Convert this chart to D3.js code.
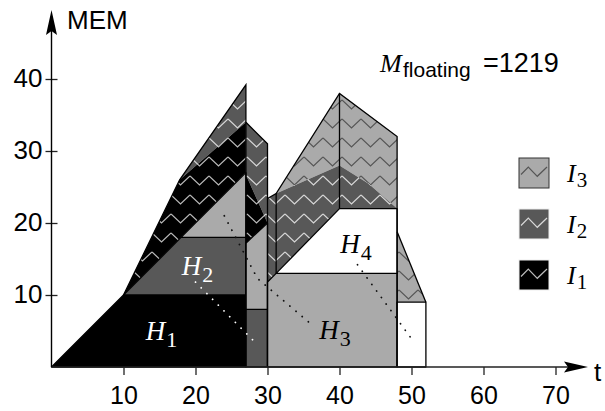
<!DOCTYPE html>
<meta charset="utf-8" />
<script src="https://d3js.org/d3.v7.min.js"></script>
<style>
  body { margin: 0; background: #fff; }
  svg { display: block; }
</style>
<div id="chart"></div>
<script>
  // memory profile, points are [t, MEM]
  const h1 = [[0, 0], [10, 10], [27, 10], [27, 0]];
  const h2 = [[10, 10], [18, 18], [27, 18], [27, 10]];
  const h2Top = [[18, 18], [27, 27], [27, 18]];
  const i1Left = [[10, 10], [17.8, 26], [27, 34], [27, 27]];
  const i2Left = [[17.8, 26], [27, 39.2], [27, 34]];
  const colBottom = [[27, 0], [30, 0], [30, 8], [27, 8]];
  const colMid = [[27, 8], [30, 8], [30, 20], [27, 17.2]];
  const colI1 = [[27, 26.7], [30, 20], [27, 17.2]];
  const colI2 = [[27, 34], [30, 31], [30, 20], [27, 26.7]];
  const h3 = [[30, 0], [48, 0], [48, 13], [31.2, 13], [30, 11.8]];
  const h4 = [[31.2, 13], [40, 22], [48, 22], [48, 13]];
  const i2Right = [[30, 11.8], [40, 22], [48, 22], [44, 25.5], [40, 28], [31.2, 24.1], [30, 23.4]];
  const i3Right = [[30, 23.4], [31.2, 24.1], [40, 38], [48, 32], [48, 22], [44, 25.5], [40, 28], [31.2, 24.1]];
  const i3End = [[48, 18.8], [52, 9], [48, 9]];
  const endBox = [[48, 0], [52, 0], [52, 9], [48, 9]];

  const outlines = [
    [[10, 10], [17.8, 26], [27, 39.2], [27, 0]],
    [[27, 34], [30, 31], [30, 0]],
    [[30, 23.4], [31.2, 24.1], [40, 38], [48, 32], [48, 0]],
    [[31.2, 13], [31.2, 24.1]],
    [[40, 22], [40, 38]],
    [[48, 18.8], [52, 9]]
  ];

  const dotsDark = [
    [[24, 21], [28.6, 12.3], [36, 6]],
    [[42.5, 14.2], [49.8, 4.2]]
  ];
  const dotsLight = [[[20, 11.8], [28.7, 3]]];

  const hLabels = [
    { name: "H", sub: "1", t: 13.1, m: 3.75, color: "#fff" },
    { name: "H", sub: "2", t: 18.1, m: 12.8, color: "#fff" },
    { name: "H", sub: "3", t: 37.2, m: 3.9, color: "#000" },
    { name: "H", sub: "4", t: 40.1, m: 15.8, color: "#000" }
  ];

  const legendItems = [
    { name: "I", sub: "3", fill: "#aaaaaa", zz: "#555", border: "#333" },
    { name: "I", sub: "2", fill: "#585858", zz: "#d8d8d8", border: "#eee" },
    { name: "I", sub: "1", fill: "#000000", zz: "#bbb", border: "#eee" }
  ];

  const xTicks = [10, 20, 30, 40, 50, 60, 70];
  const yTicks = [10, 20, 30, 40];
  const mFloating = "=1219";

  const W = 605, H = 411;
  const svg = d3.select("#chart").append("svg")
    .attr("width", W).attr("height", H);

  const x = d3.scaleLinear().domain([0, 70]).range([51.5, 555.5]);
  const y = d3.scaleLinear().domain([0, 40]).range([367, 79]);
  const line = d3.line().x(d => x(d[0])).y(d => y(d[1]));
  const poly = d => line(d) + "Z";

  // zigzag fills
  const defs = svg.append("defs");
  function zigzag(id, bg, fg) {
    const p = defs.append("pattern").attr("id", id)
      .attr("patternUnits", "userSpaceOnUse")
      .attr("width", 19).attr("height", 19);
    p.append("rect").attr("width", 19).attr("height", 19).attr("fill", bg);
    p.append("path").attr("d", "M0,5 L9.5,14 L19,5")
      .attr("fill", "none").attr("stroke", fg).attr("stroke-width", 1.2);
  }
  zigzag("zzBlack", "#000", "#bbb");
  zigzag("zzDark", "#585858", "#d8d8d8");
  zigzag("zzLight", "#aaaaaa", "#555");

  const shapes = [
    { d: i2Left, fill: "url(#zzDark)" },
    { d: i1Left, fill: "url(#zzBlack)" },
    { d: colI2, fill: "url(#zzDark)" },
    { d: colI1, fill: "url(#zzBlack)" },
    { d: i3Right, fill: "url(#zzLight)" },
    { d: i2Right, fill: "url(#zzDark)" },
    { d: i3End, fill: "url(#zzLight)" },
    { d: h1, fill: "#000", stroke: true },
    { d: h2, fill: "#585858", stroke: true },
    { d: h2Top, fill: "#aaaaaa", stroke: true },
    { d: colBottom, fill: "#585858", stroke: true },
    { d: colMid, fill: "#aaaaaa", stroke: true },
    { d: h3, fill: "#aaaaaa", stroke: true },
    { d: h4, fill: "#fff", stroke: true },
    { d: endBox, fill: "#fff", stroke: true }
  ];

  svg.append("g").selectAll("path").data(shapes).join("path")
    .attr("d", d => poly(d.d))
    .attr("fill", d => d.fill)
    .attr("stroke", d => d.stroke ? "#000" : "none")
    .attr("stroke-width", 1.3)
    .attr("stroke-linejoin", "round");

  svg.append("g").selectAll("path").data(outlines).join("path")
    .attr("d", line)
    .attr("fill", "none").attr("stroke", "#000").attr("stroke-width", 1.3);

  // dotted guides
  svg.append("g").selectAll("path").data(dotsDark).join("path")
    .attr("d", line).attr("fill", "none").attr("stroke", "#111")
    .attr("stroke-width", 1.8).attr("stroke-linecap", "round")
    .attr("stroke-dasharray", "0.1,8");
  svg.append("g").selectAll("path").data(dotsLight).join("path")
    .attr("d", line).attr("fill", "none").attr("stroke", "#fff")
    .attr("stroke-width", 1.8).attr("stroke-linecap", "round")
    .attr("stroke-dasharray", "0.1,8");

  // H labels
  const hl = svg.append("g").selectAll("text").data(hLabels).join("text")
    .attr("x", d => x(d.t)).attr("y", d => y(d.m))
    .attr("fill", d => d.color)
    .style("font-family", "'Liberation Serif', 'DejaVu Serif', serif");
  hl.append("tspan").style("font-style", "italic").style("font-size", "27px").text(d => d.name);
  hl.append("tspan").attr("dy", 7).attr("dx", 1).style("font-size", "22px").text(d => d.sub);

  // axes
  const axisColor = "#222";
  const gx = svg.append("g").attr("transform", `translate(0,${y(0)})`)
    .call(d3.axisBottom(x).tickValues(xTicks).tickSize(8).tickPadding(11));
  gx.select(".domain").remove();
  gx.selectAll(".tick line").attr("stroke", axisColor).attr("stroke-width", 1.3);
  gx.selectAll(".tick text").style("font-family", "'Liberation Sans', Arial, sans-serif")
    .style("font-size", "25px").attr("fill", "#000");

  const gy = svg.append("g").attr("transform", `translate(${x(0)},0)`)
    .call(d3.axisLeft(y).tickValues(yTicks).tickSize(6).tickPadding(3));
  gy.select(".domain").remove();
  gy.selectAll(".tick line").attr("x1", 6).attr("stroke", axisColor).attr("stroke-width", 1.3);
  gy.selectAll(".tick text").style("font-family", "'Liberation Sans', Arial, sans-serif")
    .style("font-size", "26px").attr("fill", "#000").attr("dy", "0.28em");

  svg.append("line").attr("x1", x(0)).attr("x2", 570).attr("y1", y(0)).attr("y2", y(0))
    .attr("stroke", axisColor).attr("stroke-width", 1.4);
  svg.append("path").attr("d", `M588,${y(0)} L564,${y(0) - 5.5} L568,${y(0)} L564,${y(0) + 5.5}Z`)
    .attr("fill", "#000");
  svg.append("line").attr("x1", x(0)).attr("x2", x(0)).attr("y1", y(0)).attr("y2", 30)
    .attr("stroke", "#000").attr("stroke-width", 1.4);
  svg.append("path").attr("d", `M${x(0)},10 L${x(0) - 5.5},35 L${x(0)},31 L${x(0) + 5.5},35Z`)
    .attr("fill", "#000");

  svg.append("text").attr("x", 67).attr("y", 29)
    .style("font-family", "'Liberation Sans', Arial, sans-serif").style("font-size", "26px")
    .text("MEM");
  svg.append("text").attr("x", 594).attr("y", 381)
    .style("font-family", "'Liberation Sans', Arial, sans-serif").style("font-size", "26px")
    .text("t");

  // M floating
  const mt = svg.append("text").attr("y", 72);
  mt.append("tspan").attr("x", 380).style("font-family", "'Liberation Serif', serif")
    .style("font-style", "italic").style("font-size", "26px").text("M");
  mt.append("tspan").attr("x", 403).attr("dy", 5).style("font-family", "'Liberation Sans', Arial, sans-serif")
    .style("font-size", "21px").text("floating");
  mt.append("tspan").attr("x", 483).attr("dy", -5).style("font-family", "'Liberation Sans', Arial, sans-serif")
    .style("font-size", "27px").text(mFloating);

  // legend
  const lg = svg.append("g").selectAll("g").data(legendItems).join("g")
    .attr("transform", (d, i) => `translate(519,${158 + i * 51})`);
  lg.append("rect").attr("width", 30).attr("height", 30)
    .attr("fill", d => d.fill).attr("stroke", d => d.border).attr("stroke-width", 1);
  lg.append("path").attr("d", "M2,16.5 L9.3,9 L18.3,18.3 L28,9")
    .attr("fill", "none").attr("stroke", d => d.zz).attr("stroke-width", 1.2);
  const lt = lg.append("text").attr("x", 48).attr("y", 24)
    .style("font-family", "'Liberation Serif', 'DejaVu Serif', serif");
  lt.append("tspan").style("font-style", "italic").style("font-size", "26px").text(d => d.name);
  lt.append("tspan").attr("dy", 5).attr("dx", 1).style("font-size", "21px").text(d => d.sub);
</script>
